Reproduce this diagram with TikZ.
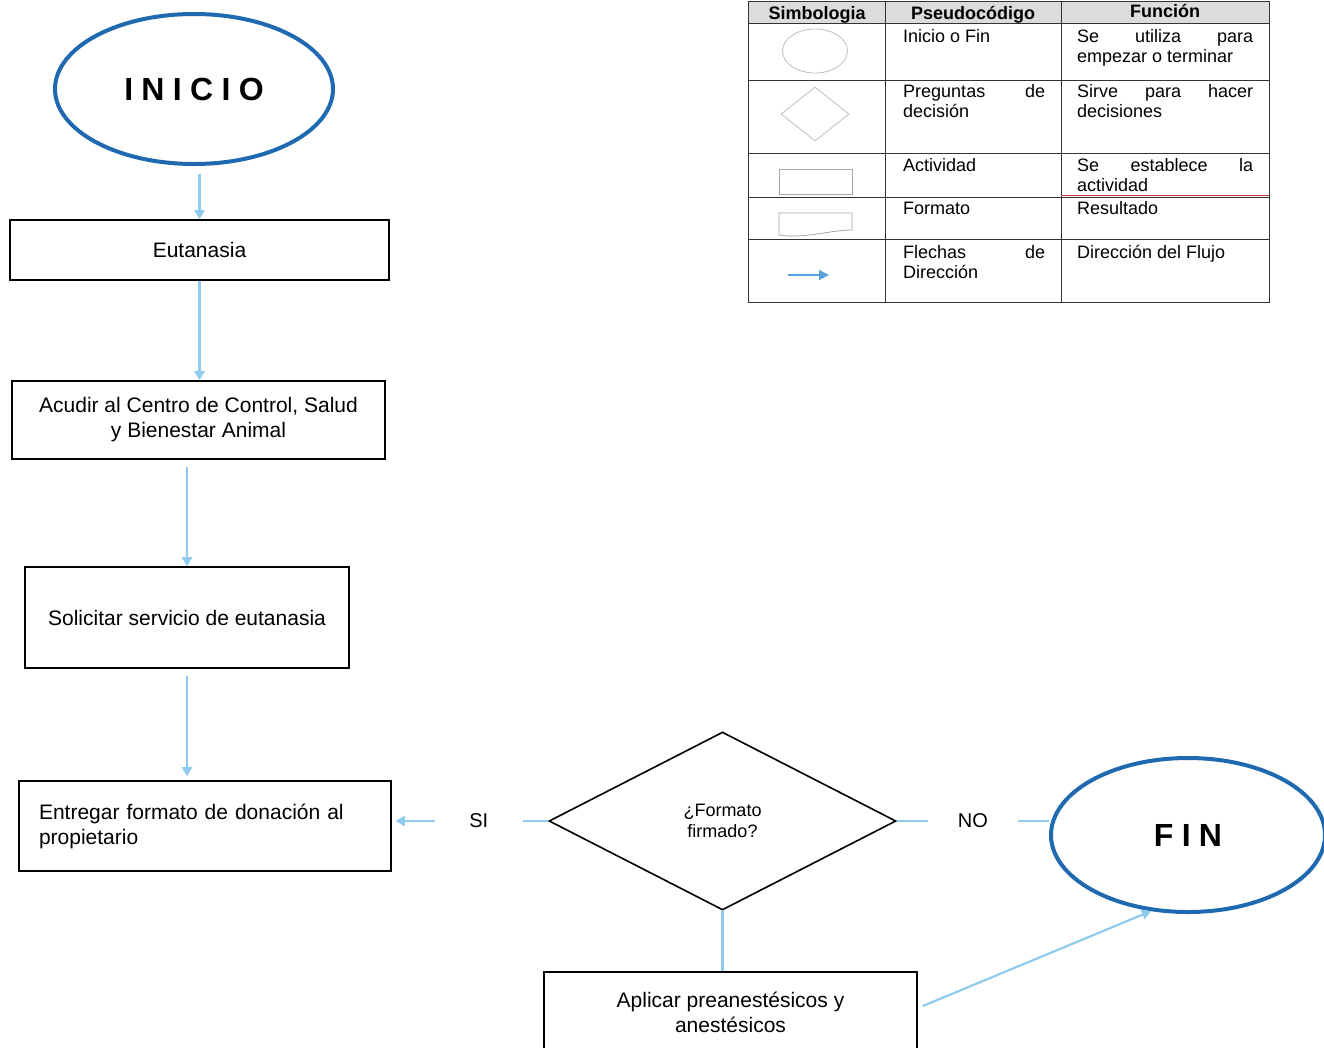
\documentclass[tikz,border=0pt]{standalone}
\usepackage{fontspec}
\setmainfont{Liberation Sans}
\newfontfamily\widefont[LetterSpace=26]{Liberation Sans}
\usetikzlibrary{shapes.geometric,arrows.meta}
\definecolor{dblue}{HTML}{1F69B1}
\definecolor{lblue}{HTML}{8FCBEF}
\definecolor{sblue}{HTML}{5AA0DC}
\definecolor{hdr}{HTML}{DCDCDC}
\definecolor{tline}{HTML}{333333}
\begin{document}
\begin{tikzpicture}[x=1pt,y=-1pt,
  box/.style={draw=black,line width=1.6pt,rectangle,inner sep=0pt,font=\fontsize{21}{25}\selectfont,align=center},
  term/.style={ellipse,draw=dblue,line width=4pt,inner sep=0pt,font=\widefont\bfseries\fontsize{32}{36}\selectfont},
  arr/.style={draw=lblue,line width=2.2pt,-{Triangle[length=9pt,width=10pt]}},
  conn/.style={draw=lblue,line width=2.2pt},
  lbl/.style={fill=white,inner sep=0pt,font=\fontsize{20}{24}\selectfont},
  cell/.style={anchor=base west,inner sep=0pt,align=left,font=\fontsize{18}{20.5}\selectfont},
  hcell/.style={anchor=base,inner sep=0pt,font=\bfseries\fontsize{18}{20}\selectfont},
  sym/.style={draw=gray!50,line width=0.8pt,inner sep=0pt},
]
\useasboundingbox (0,0) rectangle (1324,1047);
\fill[white] (0,0) rectangle (1324,1047);

% flowchart nodes
\node[term,minimum width=278,minimum height=150] (inicio) at (194,89) {INICIO};
\node[box,minimum width=379,minimum height=60] (eut) at (199.5,250) {Eutanasia};
\node[box,minimum width=373,minimum height=78] (acu) at (198.5,420) {Acudir al Centro de Control, Salud\\y Bienestar Animal};
\node[box,minimum width=324,minimum height=101] (sol) at (187,617.5) {Solicitar servicio de eutanasia};
\node[box,minimum width=372,minimum height=90,align=left,text width=332] (ent) at (205,826) {Entregar formato de donación al\\propietario};
\node[diamond,draw=black,line width=1.6pt,minimum width=347,minimum height=178,inner sep=0pt,aspect=2,font=\fontsize{18}{21}\selectfont,align=center] (dia) at (722.5,821) {¿Formato\\firmado?};
\node[term,minimum width=274,minimum height=154] (fin) at (1188,835) {FIN};
\node[box,minimum width=373,minimum height=80] (apl) at (730.5,1012) {Aplicar preanestésicos y\\anestésicos};

% connectors
\draw[arr] ([yshift=-8pt]inicio.south -| eut.north) -- (eut.north);
\draw[arr] (eut.south) -- (eut.south |- acu.north);
\draw[arr] ([yshift=-7pt]acu.south -| sol.north) -- (sol.north);
\draw[arr,shorten >=4pt] ([yshift=-7pt]sol.south) -- (sol.south |- ent.north);
\draw[arr] (dia.west) -- node[lbl,pos=0.456,minimum width=88,minimum height=24] (si) {SI} ([xshift=4pt]ent.east |- dia.west);
\draw[conn] (dia.east) -- node[lbl,minimum width=90,minimum height=24] (no) {NO} (fin.west |- dia.east);
\draw[conn] (dia.south) -- (dia.south |- apl.north);
\draw[arr] ([xshift=5pt,yshift=6pt]apl.east) -- (fin.-116);

% legend table
\fill[hdr] (748,1) rectangle (1269,23);
\draw[tline,line width=1pt] (748,1) rectangle (1269,302);
\draw[tline,line width=1pt] (748,23) -- (1269,23) (748,80) -- (1269,80) (748,153) -- (1269,153)
  (748,197) -- (1269,197) (748,239) -- (1269,239) (885,1) -- (885,302) (1061,1) -- (1061,302);
\draw[red!60!gray,line width=0.6pt] (1061,195) -- (1269,195);

\node[hcell] (h1) at (817,19) {Simbologia};
\node[hcell] (h2) at (973,19) {Pseudocódigo};
\node[hcell] (h3) at (1165,17) {Función};

\node[cell] (c1) at (903,42) {Inicio o Fin};
\node[cell] (c2) at (903,117.5) {\makebox[142pt][s]{Preguntas de}\\decisión};
\node[cell] (c3) at (903,171) {Actividad};
\node[cell] (c4) at (903,214) {Formato};
\node[cell] (c5) at (903,278.5) {\makebox[142pt][s]{Flechas de}\\Dirección};

\node[cell] (d1) at (1077,62.5) {\makebox[176pt][s]{Se utiliza para}\\empezar o terminar};
\node[cell] (d2) at (1077,117.5) {\makebox[176pt][s]{Sirve para hacer}\\decisiones};
\node[cell] (d3) at (1077,191.5) {\makebox[176pt][s]{Se establece la}\\actividad};
\node[cell] (d4) at (1077,214) {Resultado};
\node[cell] (d5) at (1077,258) {Dirección del Flujo};

% symbols
\node[sym,ellipse,minimum width=65,minimum height=44] (se) at (815,51) {};
\node[sym,diamond,minimum width=68,minimum height=54] (sd) at (815,114) {};
\node[sym,rectangle,draw=gray!70,minimum width=73,minimum height=25] (sr) at (815.5,181.5) {};
\draw[sym,draw=gray!70] (779,213) -- (852,213) -- (852,230) .. controls (830,230) and (805,239) .. (779,235) -- cycle;
\coordinate (sa1) at (788,275);
\coordinate (sa2) at (829,275);
\draw[draw=sblue,line width=1.5pt,-{Triangle[length=10pt,width=10pt]}] (sa1) -- (sa2);
\end{tikzpicture}
\end{document}
